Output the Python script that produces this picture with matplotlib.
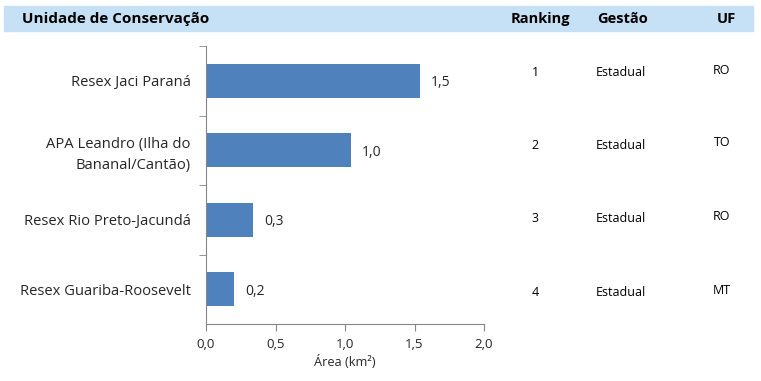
import matplotlib
matplotlib.use("Agg")
import matplotlib.pyplot as plt
from matplotlib.patches import Rectangle

plt.rcParams["font.family"] = ["Open Sans", "DejaVu Sans"]

units = [
    "Resex Jaci Paraná",
    "APA Leandro (Ilha do\nBananal/Cantão)",
    "Resex Rio Preto-Jacundá",
    "Resex Guariba-Roosevelt",
]
areas = [1.54, 1.04, 0.34, 0.20]
rankings = ["1", "2", "3", "4"]
gestao = ["Estadual", "Estadual", "Estadual", "Estadual"]
uf = ["RO", "TO", "RO", "MT"]
xticks = [0.0, 0.5, 1.0, 1.5, 2.0]

BAR_COLOR = "#4F81BD"
AXIS_COLOR = "#868686"
TEXT_COLOR = "#262626"

W, H = 761, 381
fig = plt.figure(figsize=(W / 100, H / 100), dpi=100)

# header band
fig.patches.append(Rectangle((4 / W, 1 - 31 / H), 749 / W, 25 / H,
                             transform=fig.transFigure, color="#C6E0F5", zorder=0))
hy = 1 - 19 / H
fig.text(22 / W, hy, "Unidade de Conservação", fontsize=11, fontweight="bold",
         va="center", ha="left", color="black")
fig.text(540 / W, hy, "Ranking", fontsize=10.5, fontweight="bold", va="center", ha="center")
fig.text(622 / W, hy, "Gestão", fontsize=10.5, fontweight="bold", va="center", ha="center")
fig.text(726 / W, hy, "UF", fontsize=10.5, fontweight="bold", va="center", ha="center")

ax = fig.add_axes([206 / W, 1 - 324 / H, 278 / W, 278 / H])
ypos = list(range(len(units)))
ax.barh(ypos, areas, height=0.49, color=BAR_COLOR)
for y, v in zip(ypos, areas):
    ax.text(v + 0.08, y + 0.03, f"{v:.1f}".replace(".", ","), va="center", ha="left",
            fontsize=10, color=TEXT_COLOR)

ax.set_ylim(len(units) - 0.5, -0.5)
ax.set_xlim(0, 2.0)
ax.set_yticks(ypos)
ax.set_yticklabels(units, fontsize=10.6, color=TEXT_COLOR, linespacing=1.55)
ax.set_yticks([-0.5, 0.5, 1.5, 2.5], minor=True)
ax.tick_params(axis="y", which="major", length=0, pad=11)
ax.tick_params(axis="y", which="minor", length=5, color=AXIS_COLOR, direction="out")
ax.set_xticks(xticks)
ax.set_xticklabels([f"{t:.1f}".replace(".", ",") for t in xticks], fontsize=9.5,
                   color=TEXT_COLOR)
ax.tick_params(axis="x", length=5, color=AXIS_COLOR, direction="out", pad=5)
ax.set_xlabel("Área (km²)", fontsize=9.2, color=TEXT_COLOR, labelpad=3)
for side in ["top", "right"]:
    ax.spines[side].set_visible(False)
for side in ["left", "bottom"]:
    ax.spines[side].set_color(AXIS_COLOR)

# side table columns
rank_y = [73, 145, 219, 293]
uf_y = [70, 142, 216, 290]
for i in range(len(units)):
    fig.text(535 / W, 1 - rank_y[i] / H, rankings[i], fontsize=9, ha="center", va="center",
             color="black")
    fig.text(596 / W, 1 - rank_y[i] / H, gestao[i], fontsize=9, ha="left", va="center",
             color="black")
    fig.text(722 / W, 1 - uf_y[i] / H, uf[i], fontsize=9, ha="center", va="center",
             color="black")

fig.savefig("out.png", dpi=100)
